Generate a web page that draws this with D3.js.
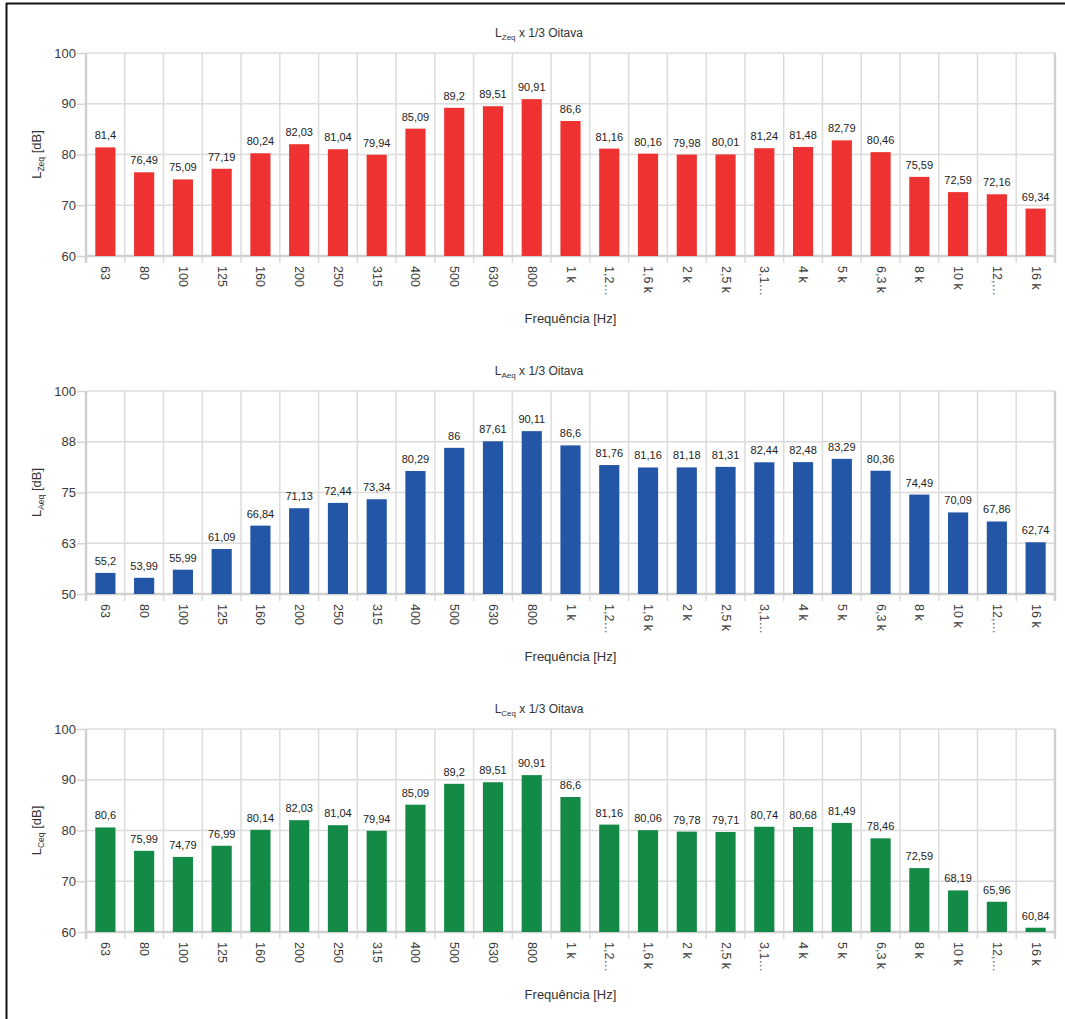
<!DOCTYPE html>
<html>
<head>
<meta charset="utf-8">
<script src="https://cdn.jsdelivr.net/npm/d3@7"></script>
<style>
  body { margin: 0; background: #fff; }
  svg text { font-family: "Liberation Sans", Arial, sans-serif; }
</style>
</head>
<body>
<div id="chart"></div>
<script>
// frequency bands (1/3 octave)
var bands = ["63","80","100","125","160","200","250","315","400","500","630","800","1 k","1,2…","1,6 k","2 k","2,5 k","3,1…","4 k","5 k","6,3 k","8 k","10 k","12,…","16 k"];

var lzeq = [81.4,76.49,75.09,77.19,80.24,82.03,81.04,79.94,85.09,89.2,89.51,90.91,86.6,81.16,80.16,79.98,80.01,81.24,81.48,82.79,80.46,75.59,72.59,72.16,69.34];
var laeq = [55.2,53.99,55.99,61.09,66.84,71.13,72.44,73.34,80.29,86,87.61,90.11,86.6,81.76,81.16,81.18,81.31,82.44,82.48,83.29,80.36,74.49,70.09,67.86,62.74];
var lceq = [80.6,75.99,74.79,76.99,80.14,82.03,81.04,79.94,85.09,89.2,89.51,90.91,86.6,81.16,80.06,79.78,79.71,80.74,80.68,81.49,78.46,72.59,68.19,65.96,60.84];

var ticksZ = [60,70,80,90,100];
var ticksA = [50,62.5,75,87.5,100];
var ticksC = [60,70,80,90,100];

var charts = [
  {sub: "Zeq", values: lzeq, ticks: ticksZ, domain: [60,100], color: "#ee3231", top: 53},
  {sub: "Aeq", values: laeq, ticks: ticksA, domain: [50,100], color: "#2356a6", top: 391},
  {sub: "Ceq", values: lceq, ticks: ticksC, domain: [60,100], color: "#138a46", top: 729}
];

var W = 1065, H = 1019;
var left = 86, right = 1055, plotH = 203;

var svg = d3.select("#chart").append("svg")
    .attr("width", W)
    .attr("height", H);

// page frame (left and top)
svg.append("line").attr("x1", 6.5).attr("x2", 6.5).attr("y1", 3).attr("y2", H)
  .attr("stroke", "#111").attr("stroke-width", 2);
svg.append("line").attr("x1", 6).attr("x2", W).attr("y1", 3.5).attr("y2", 3.5)
  .attr("stroke", "#111").attr("stroke-width", 2);

var fmt = function(v) { return String(v).replace(".", ","); };

charts.forEach(function(c) {
  var g = svg.append("g").attr("transform", "translate(0," + c.top + ")");

  var x = d3.scaleBand().domain(bands).range([left, right]).padding(0);
  var y = d3.scaleLinear().domain(c.domain).range([plotH, 0]);
  var bw = x.bandwidth() * 0.52;

  // horizontal grid + left ticks
  g.append("g")
    .attr("transform", "translate(" + left + ",0)")
    .call(d3.axisLeft(y).tickValues(c.ticks).tickSize(9)
      .tickFormat(function(d) { return Math.round(d); }))
    .call(function(a) {
      a.select(".domain").remove();
      a.selectAll("line").attr("stroke", "#d4d4d4").attr("stroke-width", 1.5);
      a.selectAll("text").attr("fill", "#3a3a3a").style("font-size", "13px").attr("x", -10);
    });
  g.selectAll(".hgrid").data(c.ticks).enter().append("line")
    .attr("x1", left).attr("x2", right)
    .attr("y1", function(d) { return y(d); }).attr("y2", function(d) { return y(d); })
    .attr("stroke", "#dcdcdc").attr("stroke-width", 1.5);

  // vertical grid at band edges
  var edges = bands.map(function(b) { return x(b); }).concat([right]);
  g.selectAll(".vgrid").data(edges).enter().append("line")
    .attr("x1", function(d) { return d; }).attr("x2", function(d) { return d; })
    .attr("y1", 0).attr("y2", plotH + 7)
    .attr("stroke", "#dcdcdc").attr("stroke-width", 1.5);

  // frame lines of plot
  g.append("line").attr("x1", left).attr("x2", left).attr("y1", 0).attr("y2", plotH + 7)
    .attr("stroke", "#d0d0d0").attr("stroke-width", 2.5);
  g.append("line").attr("x1", right).attr("x2", right).attr("y1", 0).attr("y2", plotH + 7)
    .attr("stroke", "#d0d0d0").attr("stroke-width", 2.5);
  g.append("line").attr("x1", left).attr("x2", right).attr("y1", plotH).attr("y2", plotH)
    .attr("stroke", "#d0d0d0").attr("stroke-width", 2.5);

  // bars
  g.selectAll(".bar").data(c.values).enter().append("rect")
    .attr("x", function(d, i) { return x(bands[i]) + (x.bandwidth() - bw) / 2; })
    .attr("y", function(d) { return y(d); })
    .attr("width", bw)
    .attr("height", function(d) { return plotH - y(d); })
    .attr("fill", c.color);

  // value labels
  g.selectAll(".val").data(c.values).enter().append("text")
    .attr("x", function(d, i) { return x(bands[i]) + x.bandwidth() / 2; })
    .attr("y", function(d) { return y(d) - 8; })
    .attr("text-anchor", "middle")
    .style("font-size", "11px")
    .attr("fill", "#222")
    .text(function(d) { return fmt(d); });

  // x tick labels rotated
  g.selectAll(".xl").data(bands).enter().append("text")
    .attr("transform", function(d) {
      return "translate(" + (x(d) + x.bandwidth() / 2 - 4) + "," + (plotH + 10) + ") rotate(90)";
    })
    .style("font-size", "12.5px")
    .attr("fill", "#3a3a3a")
    .text(function(d) { return d; });

  // title
  var t = g.append("text")
    .attr("x", 539).attr("y", -16)
    .attr("text-anchor", "middle")
    .style("font-size", "12px")
    .attr("fill", "#333");
  t.append("tspan").text("L");
  t.append("tspan").attr("dy", 3).style("font-size", "8px").text(c.sub);
  t.append("tspan").attr("dy", -3).text(" x 1/3 Oitava");

  // x axis title
  g.append("text")
    .attr("x", (left + right) / 2).attr("y", plotH + 67)
    .attr("text-anchor", "middle")
    .style("font-size", "13px")
    .attr("fill", "#333")
    .text("Frequência [Hz]");

  // y axis title
  var yl = g.append("text")
    .attr("transform", "translate(41," + (plotH / 2) + ") rotate(-90)")
    .attr("text-anchor", "middle")
    .style("font-size", "13px")
    .attr("fill", "#333");
  yl.append("tspan").text("L");
  yl.append("tspan").attr("dy", 3).style("font-size", "8.5px").text(c.sub);
  yl.append("tspan").attr("dy", -3).text(" [dB]");
});
</script>
</body>
</html>
